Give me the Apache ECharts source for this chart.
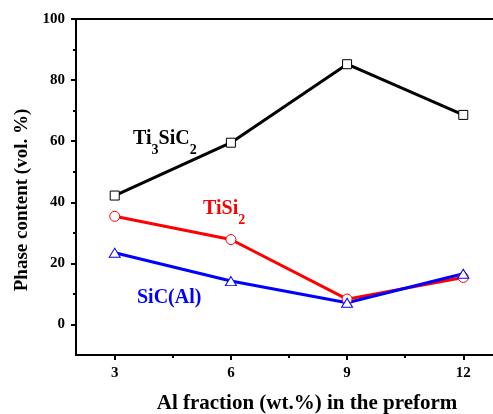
<!DOCTYPE html>
<html>
<head>
<meta charset="utf-8">
<script src="https://cdn.jsdelivr.net/npm/echarts@6/dist/echarts.min.js"></script>
<style>
html,body{margin:0;padding:0;background:#fff;}
#chart{width:493px;height:414px;}
</style>
</head>
<body>
<div id="chart"></div>
<script>
// ---- data ----
var alFraction = [3, 6, 9, 12];
var ti3sic2 = [42.2, 59.5, 85.2, 68.6];
var tisi2 = [35.4, 27.8, 8.3, 15.4];
var sicAl = [23.5, 14.2, 7.1, 16.6];
var xTickValues = [3, 6, 9, 12];
var xMinorTickValues = [4.5, 7.5, 10.5];
var yTickValues = [0, 20, 40, 60, 80, 100];
var yMinorTickValues = [10, 30, 50, 70, 90];

var FONT = '"Liberation Serif", "Times New Roman", serif';

function pairs(xs, ys) {
  return xs.map(function (x, i) { return [x, ys[i]]; });
}

var chart = echarts.init(document.getElementById('chart'), null, {renderer: 'canvas'});

var axisLineStyle = {color: '#000', width: 2};

var option = {
  backgroundColor: '#fff',
  animation: false,
  grid: {
    left: 76, top: 19, right: -9, bottom: 59,
    outerBoundsMode: 'none', containLabel: false,
    show: true, borderColor: '#000', borderWidth: 2, backgroundColor: 'transparent'
  },
  xAxis: [
    {
      type: 'value', min: 2, max: 13, position: 'bottom',
      axisLine: {show: true, onZero: false, lineStyle: axisLineStyle},
      axisTick: {show: true, inside: false, length: 5, customValues: xTickValues, lineStyle: {color: '#000', width: 2}},
      axisLabel: {show: true, customValues: xTickValues, margin: 11, color: '#000',
        fontFamily: FONT, fontWeight: 'bold', fontSize: 15},
      splitLine: {show: false},
      name: 'Al fraction (wt.%) in the preform',
      nameLocation: 'middle', nameGap: 38,
      nameTextStyle: {fontFamily: FONT, fontWeight: 'bold', fontSize: 21, color: '#000', padding: [0, 0, 0, 36]}
    },
    {
      type: 'value', min: 2, max: 13, position: 'bottom',
      axisLine: {show: false, onZero: false},
      axisTick: {show: true, inside: false, length: 3, customValues: xMinorTickValues, lineStyle: {color: '#000', width: 2}},
      axisLabel: {show: false},
      splitLine: {show: false}
    }
  ],
  yAxis: [
    {
      type: 'value', min: -10, max: 100, position: 'left',
      axisLine: {show: true, onZero: false, lineStyle: axisLineStyle},
      axisTick: {show: true, inside: false, length: 5, customValues: yTickValues, lineStyle: {color: '#000', width: 2}},
      axisLabel: {show: true, customValues: yTickValues, margin: 11, color: '#000',
        fontFamily: FONT, fontWeight: 'bold', fontSize: 15},
      splitLine: {show: false},
      name: 'Phase content (vol. %)',
      nameLocation: 'middle', nameGap: 44, nameRotate: 90,
      nameTextStyle: {fontFamily: FONT, fontWeight: 'bold', fontSize: 19, color: '#000', padding: [0, 26, 0, 0]}
    },
    {
      type: 'value', min: -10, max: 100, position: 'left',
      axisLine: {show: false, onZero: false},
      axisTick: {show: true, inside: false, length: 3, customValues: yMinorTickValues, lineStyle: {color: '#000', width: 2}},
      axisLabel: {show: false},
      splitLine: {show: false}
    }
  ],
  series: [
    {
      name: 'Ti3SiC2', type: 'line', xAxisIndex: 0, yAxisIndex: 0,
      data: pairs(alFraction, ti3sic2),
      symbol: 'rect', symbolSize: 9,
      lineStyle: {color: '#000', width: 3},
      itemStyle: {color: '#fff', borderColor: '#000', borderWidth: 1}
    },
    {
      name: 'TiSi2', type: 'line', xAxisIndex: 0, yAxisIndex: 0,
      data: pairs(alFraction, tisi2),
      symbol: 'circle', symbolSize: 10,
      lineStyle: {color: '#ff0000', width: 3},
      itemStyle: {color: '#fff', borderColor: '#ff0000', borderWidth: 1}
    },
    {
      name: 'SiC(Al)', type: 'line', xAxisIndex: 0, yAxisIndex: 0,
      data: pairs(alFraction, sicAl),
      symbol: 'triangle', symbolSize: [11, 9],
      lineStyle: {color: '#0000ff', width: 3},
      itemStyle: {color: '#fff', borderColor: '#0000ff', borderWidth: 1}
    }
  ],
  graphic: [
    {
      type: 'text', left: 133, top: 129, z: 10,
      style: {
        text: '{a|Ti}{s|3}{a|SiC}{s|2}',
        rich: {
          a: {fontFamily: FONT, fontWeight: 'bold', fontSize: 20, lineHeight: 20, verticalAlign: 'top', fill: '#000', color: '#000'},
          s: {fontFamily: FONT, fontWeight: 'bold', fontSize: 14, lineHeight: 14, verticalAlign: 'top', padding: [14, 0, 0, 0], fill: '#000', color: '#000'}
        }
      }
    },
    {
      type: 'text', left: 203, top: 199, z: 10,
      style: {
        text: '{a|TiSi}{s|2}',
        rich: {
          a: {fontFamily: FONT, fontWeight: 'bold', fontSize: 20, lineHeight: 20, verticalAlign: 'top', fill: '#ff0000', color: '#ff0000'},
          s: {fontFamily: FONT, fontWeight: 'bold', fontSize: 14, lineHeight: 14, verticalAlign: 'top', padding: [14, 0, 0, 0], fill: '#ff0000', color: '#ff0000'}
        }
      }
    },
    {
      type: 'text', left: 137, top: 288, z: 10,
      style: {
        text: 'SiC(Al)',
        font: 'bold 20px ' + FONT,
        fill: '#0000ff'
      }
    }
  ]
};

chart.setOption(option);
</script>
</body>
</html>
